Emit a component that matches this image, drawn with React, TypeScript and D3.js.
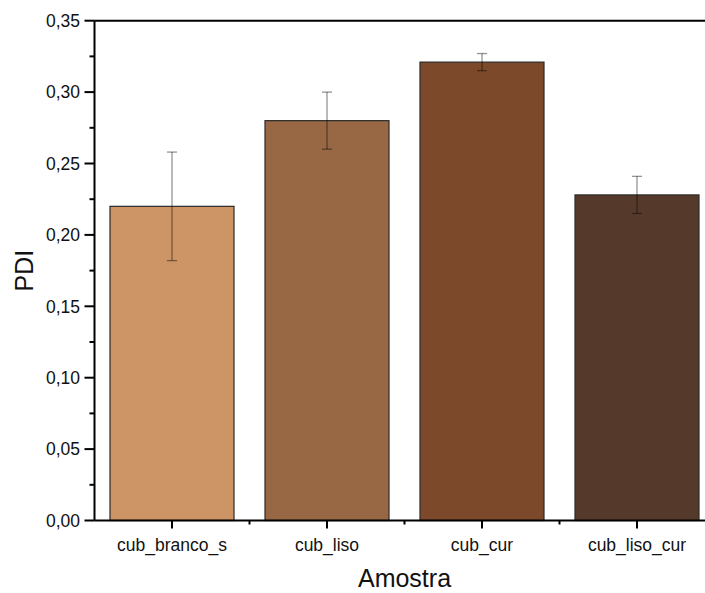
import React from "react";
import * as d3 from "d3";

// Sample names, mean PDI and standard deviation per sample
const categories = ["cub_branco_s", "cub_liso", "cub_cur", "cub_liso_cur"];
const pdiValues = [0.22, 0.28, 0.321, 0.228];
const pdiErrors = [0.038, 0.02, 0.006, 0.013];
const barColors = ["#CD9566", "#976843", "#7C4A2A", "#553A2B"];
const yTicks = [0, 0.05, 0.1, 0.15, 0.2, 0.25, 0.3, 0.35];
const yMinorTicks = [0.025, 0.075, 0.125, 0.175, 0.225, 0.275, 0.325];

const W = 705;
const H = 593;
const FONT = "'Liberation Sans', Arial, sans-serif";

export default function App() {
  const left = 94.5;
  const right = 714.5;
  const top = 20.7;
  const bottom = 520.5;

  const x = d3.scaleBand<string>().domain(categories).range([left, right]).paddingInner(0.2).paddingOuter(0.1);
  const y = d3.scaleLinear().domain([0, 0.35]).range([bottom, top]);
  const step = x.step();
  const fmt = (v: number) => d3.format(".2f")(v).replace(".", ",");

  const minorX = d3.range(1, categories.length).map((i) => left + i * step);

  return (
    <svg width={W} height={H} style={{ position: "absolute", left: 0, top: 0, background: "#fff" }}>
      {/* bars */}
      {categories.map((c, i) => (
        <rect
          key={c}
          x={x(c)!}
          y={y(pdiValues[i])}
          width={x.bandwidth()}
          height={bottom - y(pdiValues[i])}
          fill={barColors[i]}
          stroke="#2a2a2a"
          strokeWidth={1.2}
        />
      ))}
      {/* error bars */}
      {categories.map((c, i) => {
        const cx = x(c)! + x.bandwidth() / 2;
        const y1 = y(pdiValues[i] + pdiErrors[i]);
        const y2 = y(pdiValues[i] - pdiErrors[i]);
        return (
          <g key={"e" + c} stroke="#000" strokeOpacity={0.42} strokeWidth={1.3}>
            <line x1={cx} x2={cx} y1={y1} y2={y2} />
            <line x1={cx - 5} x2={cx + 5} y1={y1} y2={y1} />
            <line x1={cx - 5} x2={cx + 5} y1={y2} y2={y2} />
          </g>
        );
      })}
      {/* frame */}
      <line x1={left} x2={W} y1={top} y2={top} stroke="#000" strokeWidth={2} />
      <line x1={left} x2={W} y1={bottom} y2={bottom} stroke="#000" strokeWidth={2} />
      <line x1={left} x2={left} y1={top} y2={bottom} stroke="#000" strokeWidth={2} />
      {/* y ticks */}
      {yTicks.map((t) => (
        <g key={"yt" + t}>
          <line x1={left - 10} x2={left} y1={y(t)} y2={y(t)} stroke="#000" strokeWidth={2} />
          <text x={80} y={y(t)} dy="0.36em" textAnchor="end" fontFamily={FONT} fontSize={17.5} fill="#111">
            {fmt(t)}
          </text>
        </g>
      ))}
      {yMinorTicks.map((t) => (
        <line key={"ym" + t} x1={left - 5} x2={left} y1={y(t)} y2={y(t)} stroke="#000" strokeWidth={2} />
      ))}
      {/* x ticks */}
      {categories.map((c) => {
        const cx = x(c)! + x.bandwidth() / 2;
        return (
          <g key={"xt" + c}>
            <line x1={cx} x2={cx} y1={bottom} y2={bottom + 8} stroke="#000" strokeWidth={2} />
            <text x={cx} y={551} textAnchor="middle" fontFamily={FONT} fontSize={17.5} fill="#111">
              {c}
            </text>
          </g>
        );
      })}
      {minorX.map((mx) => (
        <line key={"xm" + mx} x1={mx} x2={mx} y1={bottom} y2={bottom + 4} stroke="#000" strokeWidth={2} />
      ))}
      {/* axis titles */}
      <text x={(left + right) / 2} y={587} textAnchor="middle" fontFamily={FONT} fontSize={25} fill="#111">
        Amostra
      </text>
      <text
        transform={`translate(33,${(top + bottom) / 2}) rotate(-90)`}
        textAnchor="middle"
        fontFamily={FONT}
        fontSize={25}
        fill="#111"
      >
        PDI
      </text>
    </svg>
  );
}
